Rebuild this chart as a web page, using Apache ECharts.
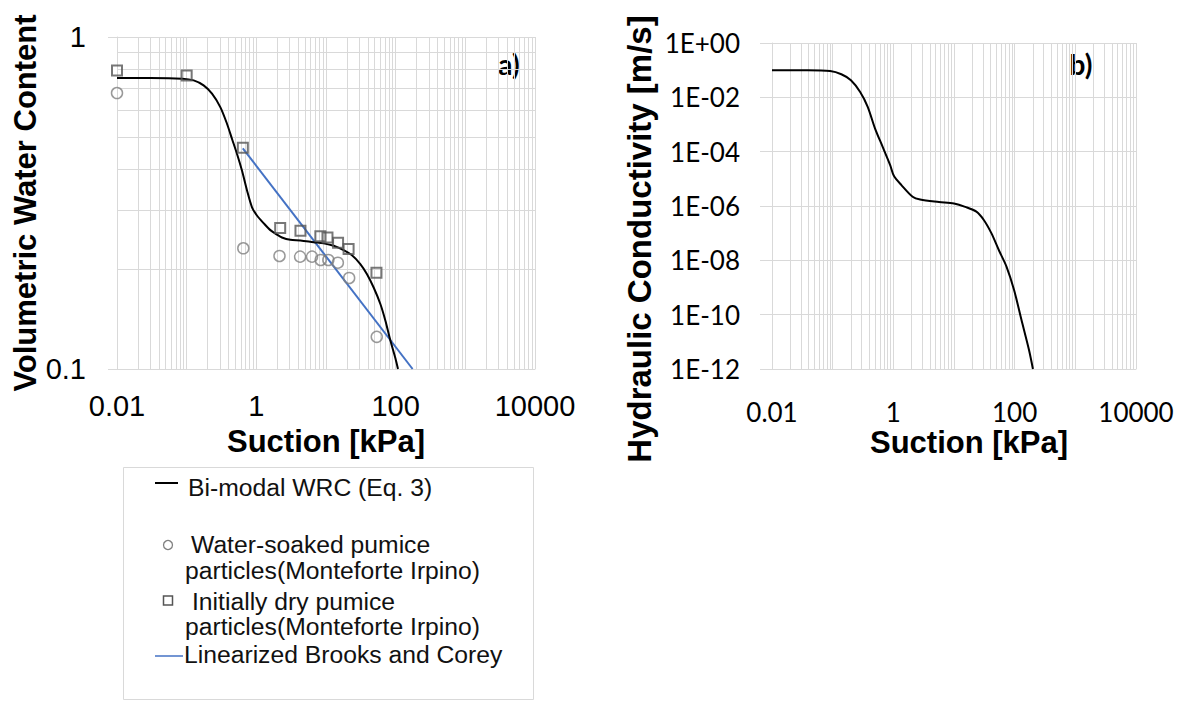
<!DOCTYPE html>
<html>
<head>
<meta charset="utf-8">
<script src="https://cdn.jsdelivr.net/npm/echarts@6/dist/echarts.min.js"></script>
<style>
html,body{margin:0;padding:0;background:#fff;}
#chart{width:1189px;height:702px;}
</style>
</head>
<body>
<div id="chart"></div>
<script>
// ---- Panel a) water retention data ----
const suctionWRC = [0.01, 0.03, 0.086, 0.126, 0.175, 0.231, 0.304, 0.379, 0.448, 0.527, 0.622, 0.735, 0.867, 1.02, 1.27, 1.59, 1.98, 2.33, 3.08, 4.29, 6.65, 9.27, 12.9, 17.9, 23.6, 31.1, 38.8, 48.3, 60.3, 71.1, 83.8, 98.9, 108];
const thetaWRC   = [0.752, 0.752, 0.749, 0.740, 0.715, 0.675, 0.615, 0.548, 0.493, 0.445, 0.396, 0.345, 0.307, 0.290, 0.275, 0.262, 0.254, 0.249, 0.245, 0.244, 0.241, 0.239, 0.235, 0.228, 0.220, 0.207, 0.193, 0.176, 0.157, 0.140, 0.122, 0.108, 0.100];

const suctionSoaked = [0.01, 0.65, 2.15, 4.25, 6.3, 8.4, 10.8, 14.8, 21.5, 53.5];
const thetaSoaked   = [0.678, 0.231, 0.219, 0.218, 0.218, 0.213, 0.213, 0.209, 0.188, 0.125];

const suctionDry = [0.01, 0.1, 0.64, 2.2, 4.3, 8.3, 10.5, 14.9, 21.1, 53];
const thetaDry   = [0.793, 0.766, 0.464, 0.266, 0.261, 0.251, 0.249, 0.240, 0.230, 0.195];

const suctionBC = [0.64, 175];
const thetaBC   = [0.462, 0.1];

// ---- Panel b) hydraulic conductivity data ----
const suctionK = [0.01, 0.039, 0.091, 0.139, 0.20, 0.284, 0.378, 0.50, 0.667, 0.887, 1.02, 1.36, 2.08, 2.77, 5.65, 10, 15.3, 23.4, 31.2, 41.5, 55.2, 73.3, 97.5, 129, 172, 200];
const conductivityK = [0.1, 0.1, 0.093, 0.0708, 0.0427, 0.0158, 4.5e-3, 7.1e-4, 1.5e-4, 3.2e-5, 1.3e-5, 5.9e-6, 2.2e-6, 1.74e-6, 1.41e-6, 1.23e-6, 9.3e-7, 6.2e-7, 3.0e-7, 9.8e-8, 2.3e-8, 5.9e-9, 8.3e-10, 6.6e-11, 5.1e-12, 1e-12];

// ---- Tick labels ----
const xTickLabels = [0.01, 1, 100, 10000];
const xDecades = [0.01, 0.1, 1, 10, 100, 1000];
const yTickLabelsA = [0.1, 1];
const yGridA = [0.1, 0.2, 0.3, 0.4, 0.5, 0.6, 0.7, 0.8, 0.9, 1];
const yTickLabelsB = [1e-12, 1e-10, 1e-8, 1e-6, 1e-4, 1e-2, 1];

// log grid lines (1..9 per decade)
const xGrid = [];
xDecades.forEach(d => { for (let m = 1; m <= 9; m++) xGrid.push(+(m * d).toPrecision(6)); });
xGrid.push(10000);

const zip = (a, b) => a.map((v, i) => [v, b[i]]);
const GRID = '#d9d9d9';
const ARIAL = 'Liberation Sans';

function fmtX(v) { return v >= 1 ? String(Math.round(v)) : String(+v.toPrecision(3)); }
function fmtE(v) {
  const e = Math.round(Math.log10(v));
  return '1E' + (e < 0 ? '-' : '+') + String(Math.abs(e)).padStart(2, '0');
}

const chart = echarts.init(document.getElementById('chart'), null, {renderer: 'svg'});

function xAxisCfg(gridIndex, font, fontSize, margin, nameGap, namePad) {
  return {
    type: 'log', logBase: 10, gridIndex, min: 0.01, max: 10000,
    name: 'Suction [kPa]', nameLocation: 'middle', nameGap, nameMoveOverlap: false,
    nameTextStyle: {fontFamily: ARIAL, fontWeight: 'bold', fontSize: 31, color: '#000', padding: namePad},
    axisLine: {show: true, lineStyle: {color: GRID, width: 1}},
    axisTick: {show: false, customValues: xGrid},
    axisLabel: {customValues: xTickLabels, formatter: fmtX, fontFamily: font, fontSize, color: '#000', margin},
    splitLine: {show: true, lineStyle: {color: GRID, width: 1}},
    minorTick: {show: false}, minorSplitLine: {show: false}
  };
}

const option = {
  animation: false,
  backgroundColor: '#fff',
  grid: [
    {left: 117, right: 654, top: 37, bottom: 333, containLabel: false, outerBoundsMode: 'none'},
    {left: 772, right: 53, top: 43, bottom: 333, containLabel: false, outerBoundsMode: 'none'}
  ],
  xAxis: [
    xAxisCfg(0, ARIAL, 29, 22, 57, [0, 0, 0, 0]),
    xAxisCfg(1, 'Lato', 26, 30, 58, [0, 0, 0, 30])
  ],
  yAxis: [
    {
      type: 'log', logBase: 10, gridIndex: 0, min: 0.1, max: 1, position: 'left',
      name: 'Volumetric Water Content', nameLocation: 'middle', nameGap: 76, nameMoveOverlap: false,
      nameTextStyle: {fontFamily: ARIAL, fontWeight: 'bold', fontSize: 31, color: '#000'},
      axisLine: {show: true, lineStyle: {color: GRID}},
      axisTick: {show: false, customValues: yGridA},
      axisLabel: {customValues: yTickLabelsA, formatter: v => String(+v.toPrecision(3)), fontFamily: ARIAL, fontSize: 29, color: '#000', margin: 31},
      splitLine: {show: true, lineStyle: {color: GRID, width: 1}}
    },
    {
      type: 'log', logBase: 10, gridIndex: 0, min: 0.1, max: 1, position: 'left',
      axisLine: {show: false}, axisLabel: {show: false}, splitLine: {show: false},
      axisTick: {show: true, length: 9, customValues: yTickLabelsA, lineStyle: {color: GRID}}
    },
    {
      type: 'log', logBase: 10, gridIndex: 1, min: 1e-12, max: 1, position: 'left',
      name: 'Hydraulic Conductivity [m/s]', nameLocation: 'middle', nameGap: 116, nameMoveOverlap: false,
      nameTextStyle: {fontFamily: ARIAL, fontWeight: 'bold', fontSize: 33, color: '#000', padding: [0, 66, 0, 0]},
      axisLine: {show: true, lineStyle: {color: GRID}},
      axisTick: {show: true, length: 12, customValues: yTickLabelsB, lineStyle: {color: GRID}},
      axisLabel: {customValues: yTickLabelsB, formatter: fmtE, fontFamily: 'Lato', fontSize: 26, color: '#000', margin: 32},
      splitLine: {show: true, lineStyle: {color: GRID, width: 1}}
    }
  ],
  series: [
    {
      name: 'Bi-modal WRC (Eq. 3)', type: 'line', xAxisIndex: 0, yAxisIndex: 0,
      data: zip(suctionWRC, thetaWRC), showSymbol: false, smooth: 0.3, clip: true,
      lineStyle: {color: '#000', width: 2}, silent: true, z: 3
    },
    {
      name: 'Linearized Brooks and Corey', type: 'line', xAxisIndex: 0, yAxisIndex: 0,
      data: zip(suctionBC, thetaBC), showSymbol: false, clip: true,
      lineStyle: {color: '#4472c4', width: 2}, silent: true, z: 2
    },
    {
      name: 'Water-soaked pumice particles(Monteforte Irpino)', type: 'scatter', xAxisIndex: 0, yAxisIndex: 0,
      data: zip(suctionSoaked, thetaSoaked), symbol: 'circle', symbolSize: 11,
      itemStyle: {color: 'rgba(255,255,255,0)', borderColor: '#808080', borderWidth: 1.5}, silent: true, z: 4
    },
    {
      name: 'Initially dry pumice particles(Monteforte Irpino)', type: 'scatter', xAxisIndex: 0, yAxisIndex: 0,
      data: zip(suctionDry, thetaDry), symbol: 'rect', symbolSize: 10,
      itemStyle: {color: 'rgba(255,255,255,0)', borderColor: '#555', borderWidth: 2}, silent: true, z: 4
    },
    {
      name: 'Hydraulic conductivity', type: 'line', xAxisIndex: 1, yAxisIndex: 2,
      data: zip(suctionK, conductivityK), showSymbol: false, smooth: 0.3, clip: true,
      lineStyle: {color: '#000', width: 2}, silent: true, z: 3
    }
  ],
  graphic: [
    {type: 'text', style: {text: 'a)', x: 509, y: 64, fontFamily: 'Lato', fontWeight: 'bold', fontSize: 28, fill: '#000', align: 'center', verticalAlign: 'middle'}},
    {type: 'text', style: {text: 'b)', x: 1081, y: 64, fontFamily: 'Lato', fontWeight: 'bold', fontSize: 28, fill: '#000', align: 'center', verticalAlign: 'middle'}},
    // legend box
    {type: 'rect', shape: {x: 123.5, y: 467.5, width: 410, height: 232}, style: {fill: '#fff', stroke: GRID, lineWidth: 1}},
    {type: 'line', shape: {x1: 155, y1: 483, x2: 178, y2: 483}, style: {stroke: '#000', lineWidth: 2}},
    {type: 'text', style: {text: 'Bi-modal WRC (Eq. 3)', x: 188, y: 487, fontFamily: ARIAL, fontSize: 24.7, fill: '#111', verticalAlign: 'middle'}},
    {type: 'circle', shape: {cx: 168, cy: 545, r: 4.5}, style: {fill: 'none', stroke: '#808080', lineWidth: 1.3}},
    {type: 'text', style: {text: 'Water-soaked pumice', x: 191, y: 544, fontFamily: ARIAL, fontSize: 24.7, fill: '#111', verticalAlign: 'middle'}},
    {type: 'text', style: {text: 'particles(Monteforte Irpino)', x: 185, y: 570, fontFamily: ARIAL, fontSize: 24.7, fill: '#111', verticalAlign: 'middle'}},
    {type: 'rect', shape: {x: 163.5, y: 596, width: 9, height: 9}, style: {fill: 'none', stroke: '#555', lineWidth: 1.5}},
    {type: 'text', style: {text: 'Initially dry pumice', x: 192, y: 601, fontFamily: ARIAL, fontSize: 24.7, fill: '#111', verticalAlign: 'middle'}},
    {type: 'text', style: {text: 'particles(Monteforte Irpino)', x: 185, y: 626, fontFamily: ARIAL, fontSize: 24.7, fill: '#111', verticalAlign: 'middle'}},
    {type: 'line', shape: {x1: 155, y1: 656, x2: 183, y2: 656}, style: {stroke: '#4472c4', lineWidth: 1.5}},
    {type: 'text', style: {text: 'Linearized Brooks and Corey', x: 184, y: 654, fontFamily: ARIAL, fontSize: 24.7, fill: '#111', verticalAlign: 'middle'}}
  ]
};
chart.setOption(option);
</script>
</body>
</html>
